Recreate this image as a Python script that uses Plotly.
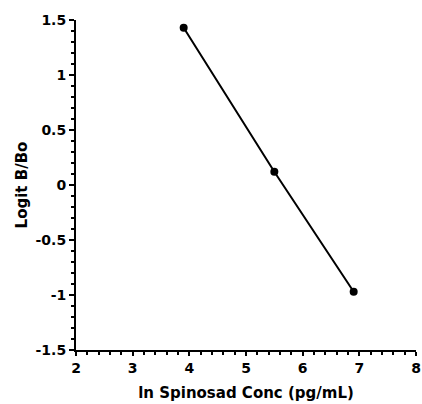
import plotly.graph_objects as go

ln_conc = [3.9, 5.5, 6.9]
logit_b_bo = [1.43, 0.12, -0.97]

x_ticks = [2, 3, 4, 5, 6, 7, 8]
y_ticks = [-1.5, -1, -0.5, 0, 0.5, 1, 1.5]
y_tick_labels = ["-1.5", "-1", "-0.5", "0", "0.5", "1", "1.5"]

fig = go.Figure()
fig.add_trace(go.Scatter(
    x=ln_conc, y=logit_b_bo, mode="lines+markers",
    line=dict(color="black", width=2),
    marker=dict(color="black", size=8),
    showlegend=False,
    cliponaxis=False,
))

tick_font = dict(family="DejaVu Sans", size=14, color="black", weight="bold")
title_font = dict(family="DejaVu Sans", size=15, color="black", weight="bold")

fig.update_layout(
    width=422, height=404,
    margin=dict(l=76, r=6, t=20, b=54, autoexpand=False),
    paper_bgcolor="white", plot_bgcolor="white",
    xaxis=dict(
        range=[2, 8], tickvals=x_ticks, ticktext=[str(v) for v in x_ticks],
        showgrid=False, zeroline=False, showline=True, linecolor="black", linewidth=2,
        ticks="outside", ticklen=4, tickwidth=2, tickcolor="black",
        minor=dict(dtick=0.2, ticks="outside", ticklen=3, tickwidth=1.5, tickcolor="black"),
        tickfont=tick_font,
        ticklabeloverflow="allow",
        automargin=False,
        title=dict(text="ln Spinosad Conc (pg/mL)", standoff=13, font=title_font),
    ),
    yaxis=dict(
        range=[-1.5, 1.5], tickvals=y_ticks, ticktext=y_tick_labels,
        showgrid=False, zeroline=False, showline=True, linecolor="black", linewidth=2,
        ticks="outside", ticklen=5, tickwidth=2, tickcolor="black",
        minor=dict(dtick=0.1, ticks="outside", ticklen=3, tickwidth=1.5, tickcolor="black"),
        tickfont=tick_font,
        ticklabeloverflow="allow",
        automargin=False,
        title=dict(text="Logit B/Bo", standoff=4, font=title_font),
    ),
)

fig.write_html(
    "out.html",
    config={"displayModeBar": False},
    post_script="document.body.style.margin='0';document.body.style.overflow='hidden';",
)
